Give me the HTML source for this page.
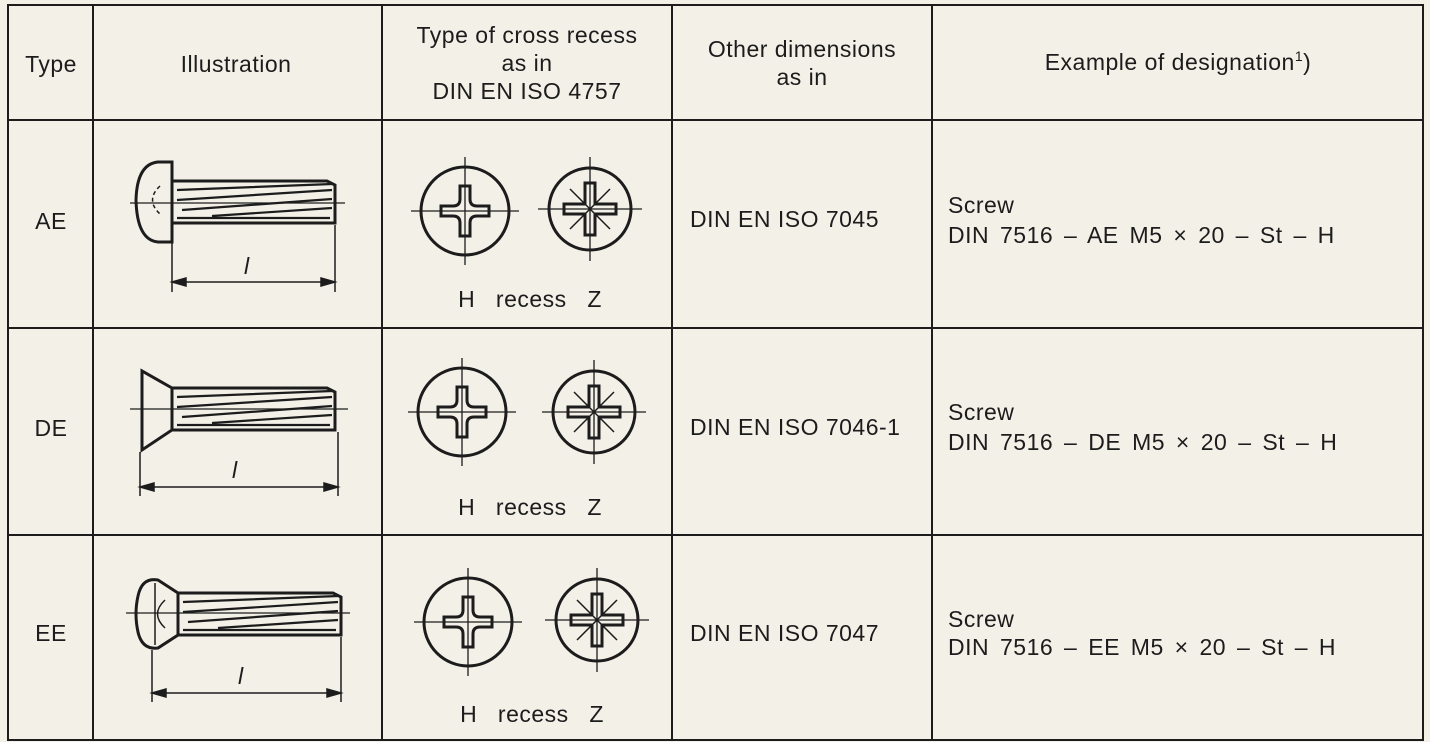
<!DOCTYPE html>
<html><head><meta charset="utf-8"><style>
html,body{margin:0;padding:0;background:#f3f0e8;}
svg{display:block}
text{font-family:"Liberation Sans",Arial,sans-serif;fill:#1c1c1c;font-size:23px;letter-spacing:0.5px}
.d{word-spacing:4px}
</style></head><body>
<svg width="1430" height="742" viewBox="0 0 1430 742" xmlns="http://www.w3.org/2000/svg">
<defs>
<g id="hx" fill="none" stroke="#1c1c1c">
 <circle r="44" stroke-width="3"/>
 <path d="M-5,-25 H5 V-12 Q5,-5 12,-5 H24 V5 H12 Q5,5 5,12 V25 H-5 V12 Q-5,5 -12,5 H-24 V-5 H-12 Q-5,-5 -5,-12 Z" stroke-width="3"/>
 <path d="M0,-54 V54 M-54,0 H54" stroke-width="1.3"/>
</g>
<g id="zx" fill="none" stroke="#1c1c1c">
 <circle r="41" stroke-width="3"/>
 <path d="M-5,-26 H5 V-5 H26 V5 H5 V26 H-5 V5 H-26 V-5 H-5 Z" stroke-width="3"/>
 <path d="M-20,-20 L20,20 M20,-20 L-20,20" stroke-width="1.5"/>
 <path d="M0,-52 V52 M-52,0 H52" stroke-width="1.3"/>
</g>
<g id="shank" fill="none" stroke="#1c1c1c">
 <path d="M0,-21 H155 L163,-17 V21 H0" stroke-width="3"/>
 <path d="M5,-12 L160,-18 M5,-2 L160,-12 M10,8 L160,-3 M40,14 L160,6 M5,16 L158,16" stroke-width="2.2"/>
</g>
</defs>
<rect x="8" y="5" width="1415" height="735" fill="none" stroke="#1c1c1c" stroke-width="2"/>
<g stroke="#1c1c1c" stroke-width="2">
<line x1="93" y1="5" x2="93" y2="740"/><line x1="382" y1="5" x2="382" y2="740"/>
<line x1="672" y1="5" x2="672" y2="740"/><line x1="932" y1="5" x2="932" y2="740"/>
<line x1="8" y1="120" x2="1423" y2="120"/><line x1="8" y1="328" x2="1423" y2="328"/><line x1="8" y1="535" x2="1423" y2="535"/>
</g>
<g text-anchor="middle">
<text x="51" y="72">Type</text>
<text x="236" y="72">Illustration</text>
<text x="527" y="43">Type of cross recess</text>
<text x="527" y="71">as in</text>
<text x="527" y="99">DIN EN ISO 4757</text>
<text x="802" y="57">Other dimensions</text>
<text x="802" y="85">as in</text>
<text x="1178" y="70">Example of designation<tspan font-size="14" dy="-9">1</tspan><tspan dy="9">)</tspan></text>
<text x="51" y="229">AE</text><text x="51" y="436">DE</text><text x="51" y="641">EE</text>
<text x="530" y="307" xml:space="preserve">H   recess   Z</text>
<text x="530" y="515" xml:space="preserve">H   recess   Z</text>
<text x="532" y="722" xml:space="preserve">H   recess   Z</text>
</g>
<text x="690" y="227">DIN EN ISO 7045</text>
<text x="690" y="435">DIN EN ISO 7046-1</text>
<text x="690" y="641">DIN EN ISO 7047</text>
<text x="948" y="213">Screw</text><text class="d" x="948" y="243">DIN 7516 – AE M5 × 20 – St – H</text>
<text x="948" y="420">Screw</text><text class="d" x="948" y="450">DIN 7516 – DE M5 × 20 – St – H</text>
<text x="948" y="627">Screw</text><text class="d" x="948" y="655">DIN 7516 – EE M5 × 20 – St – H</text>

<use href="#shank" x="172" y="202"/>
<path d="M172,162 H158 Q137,164 136,200 Q137,240 158,242 H172 Z" fill="none" stroke="#1c1c1c" stroke-width="3"/>
<path d="M160,186 Q145,200 160,214" fill="none" stroke="#1c1c1c" stroke-width="1.5" stroke-dasharray="4 3"/>
<line x1="130" y1="203" x2="345" y2="203" stroke="#1c1c1c" stroke-width="1.2"/>
<g stroke="#1c1c1c" stroke-width="1.5" fill="#1c1c1c">
<line x1="172" y1="225" x2="172" y2="292"/><line x1="335" y1="225" x2="335" y2="292"/>
<line x1="172" y1="282" x2="335" y2="282"/>
<path d="M172,282 l14,-4 v8 z M335,282 l-14,-4 v8 z"/>
</g>
<text x="244" y="274" font-style="italic" font-size="24">l</text>
<use href="#hx" x="465" y="211"/><use href="#zx" x="590" y="209"/>

<use href="#shank" x="172" y="409"/>
<path d="M172,388 L142,371 V450 L172,430 Z" fill="none" stroke="#1c1c1c" stroke-width="3"/>
<line x1="130" y1="409" x2="348" y2="409" stroke="#1c1c1c" stroke-width="1.2"/>
<g stroke="#1c1c1c" stroke-width="1.5" fill="#1c1c1c">
<line x1="140" y1="452" x2="140" y2="496"/><line x1="338" y1="432" x2="338" y2="496"/>
<line x1="140" y1="487" x2="338" y2="487"/>
<path d="M140,487 l14,-4 v8 z M338,487 l-14,-4 v8 z"/>
</g>
<text x="232" y="478" font-style="italic" font-size="24">l</text>
<use href="#hx" x="462" y="412"/><use href="#zx" x="594" y="412"/>

<use href="#shank" x="178" y="614"/>
<path d="M178,593 L158,580 Q142,577 138,596 Q134,614 138,632 Q142,650 158,648 L178,635 Z" fill="none" stroke="#1c1c1c" stroke-width="3"/>
<path d="M155,583 V645 M165,600 Q150,614 165,628" fill="none" stroke="#1c1c1c" stroke-width="1.5"/>
<line x1="126" y1="613" x2="350" y2="613" stroke="#1c1c1c" stroke-width="1.2"/>
<g stroke="#1c1c1c" stroke-width="1.5" fill="#1c1c1c">
<line x1="152" y1="650" x2="152" y2="702"/><line x1="341" y1="637" x2="341" y2="702"/>
<line x1="152" y1="693" x2="341" y2="693"/>
<path d="M152,693 l14,-4 v8 z M341,693 l-14,-4 v8 z"/>
</g>
<text x="238" y="684" font-style="italic" font-size="24">l</text>
<use href="#hx" x="468" y="622"/><use href="#zx" x="597" y="620"/>
</svg>
</body></html>
